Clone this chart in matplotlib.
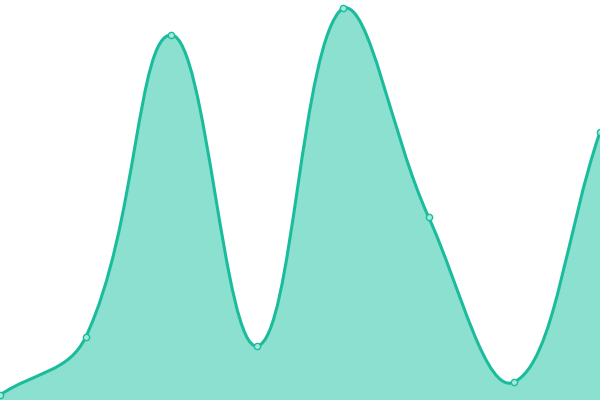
import numpy as np
import matplotlib
matplotlib.use("Agg")
import matplotlib.pyplot as plt
from matplotlib.path import Path
from matplotlib.patches import PathPatch

# values (y axis 0..400)
labels = ["A", "B", "C", "D", "E", "F", "G", "H"]
values = [5, 63, 365, 54, 392, 183, 18, 268]

line_color = "#1abc9c"
fill_color = "#8be0d0"
tension = 0.4

W, H = 600, 400
x = np.arange(len(values), dtype=float)
y = np.array(values, dtype=float)
xmax, ymax = len(values) - 1, 400.0
sx = W / xmax          # pixels per x unit
sy = H / ymax          # pixels per y unit


def spline_controls(x, y):
    # chart.js style cardinal spline, distances measured in pixels
    n = len(x)
    cp_prev = np.zeros((n, 2))
    cp_next = np.zeros((n, 2))
    for i in range(n):
        p = (x[max(i - 1, 0)], y[max(i - 1, 0)])
        c = (x[i], y[i])
        nx = (x[min(i + 1, n - 1)], y[min(i + 1, n - 1)])
        d01 = np.hypot((c[0] - p[0]) * sx, (c[1] - p[1]) * sy)
        d12 = np.hypot((nx[0] - c[0]) * sx, (nx[1] - c[1]) * sy)
        tot = d01 + d12
        s01 = d01 / tot if tot else 0
        s12 = d12 / tot if tot else 0
        fa, fb = tension * s01, tension * s12
        cp_prev[i] = (c[0] - fa * (nx[0] - p[0]), c[1] - fa * (nx[1] - p[1]))
        cp_next[i] = (c[0] + fb * (nx[0] - p[0]), c[1] + fb * (nx[1] - p[1]))
    for cp in (cp_prev, cp_next):
        cp[:, 0] = np.clip(cp[:, 0], 0, xmax)
        cp[:, 1] = np.clip(cp[:, 1], 0, ymax)
    return cp_prev, cp_next


cp_prev, cp_next = spline_controls(x, y)
verts = [(x[0], y[0])]
codes = [Path.MOVETO]
for i in range(len(x) - 1):
    verts += [tuple(cp_next[i]), tuple(cp_prev[i + 1]), (x[i + 1], y[i + 1])]
    codes += [Path.CURVE4] * 3

fig = plt.figure(figsize=(6, 4), dpi=100)
ax = fig.add_axes([0, 0, 1, 1])
ax.set_xlim(0, xmax)
ax.set_ylim(0, ymax)
ax.axis("off")

fill_verts = verts + [(xmax, 0), (0, 0), (x[0], y[0])]
fill_codes = codes + [Path.LINETO, Path.LINETO, Path.CLOSEPOLY]
ax.add_patch(PathPatch(Path(fill_verts, fill_codes), facecolor=fill_color,
                       edgecolor="none", zorder=1))
ax.add_patch(PathPatch(Path(verts, codes), facecolor="none",
                       edgecolor=line_color, linewidth=2.2, zorder=2))
ax.plot(x, y, linestyle="none", marker="o", markersize=4.5,
        markerfacecolor="#a6e8dc", markeredgecolor=line_color,
        markeredgewidth=1, zorder=3)

fig.savefig("out.png", dpi=100)
